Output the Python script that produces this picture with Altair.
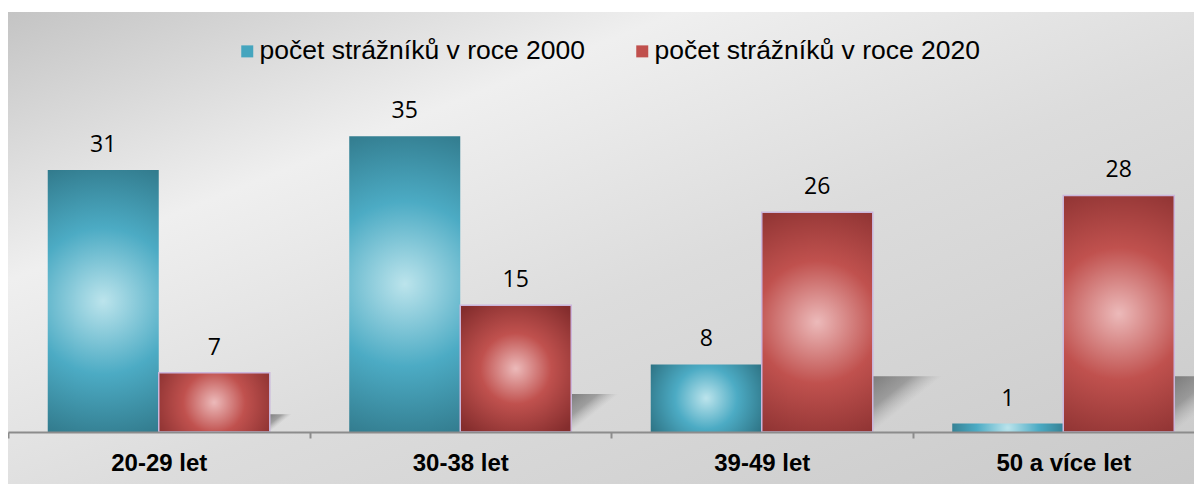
import altair as alt
import pandas as pd

categories = ["20-29 let", "30-38 let", "39-49 let", "50 a více let"]
series = ["počet strážníků v roce 2000", "počet strážníků v roce 2020"]
values_2000 = [31, 35, 8, 1]
values_2020 = [7, 15, 26, 28]

rows = []
for c, a, b in zip(categories, values_2000, values_2020):
    rows.append({"kat": c, "rada": series[0], "hodnota": a})
    rows.append({"kat": c, "rada": series[1], "hodnota": b})
df = pd.DataFrame(rows)

PX_PER_UNIT = 420 / 49.7

bg_grad = {
    "gradient": "linear", "x1": 0, "y1": 0, "x2": 1, "y2": 1,
    "stops": [
        {"offset": 0.0, "color": "#c4c4c4"},
        {"offset": 0.28, "color": "#efefef"},
        {"offset": 0.55, "color": "#dcdcdc"},
        {"offset": 1.0, "color": "#c9c9c9"},
    ],
}
blue_grad = {
    "gradient": "radial", "x1": 0.5, "y1": 0.5, "r1": 0, "x2": 0.5, "y2": 0.5, "r2": 0.62,
    "stops": [
        {"offset": 0.0, "color": "#bce4ec"},
        {"offset": 0.45, "color": "#4cabc4"},
        {"offset": 1.0, "color": "#2a6c7c"},
    ],
}
red_grad = {
    "gradient": "radial", "x1": 0.5, "y1": 0.5, "r1": 0, "x2": 0.5, "y2": 0.5, "r2": 0.62,
    "stops": [
        {"offset": 0.0, "color": "#ecbaba"},
        {"offset": 0.45, "color": "#c0514e"},
        {"offset": 1.0, "color": "#842d2d"},
    ],
}
shadow_grad = {
    "gradient": "linear", "x1": 0.5, "y1": 0, "x2": 1, "y2": 0.25,
    "stops": [
        {"offset": 0.0, "color": "rgba(95,95,95,0.75)"},
        {"offset": 0.45, "color": "rgba(110,110,110,0.55)"},
        {"offset": 0.8, "color": "rgba(150,150,150,0)"},
    ],
}

x_enc = alt.X(
    "kat:N",
    sort=categories,
    scale=alt.Scale(domain=categories, range=[0, 1206], paddingInner=0, paddingOuter=0),
    axis=alt.Axis(
        title=None, labelAngle=0, tickBand="extent", tickSize=6, tickWidth=2,
        tickColor="#8c8c8c", domainColor="#8c8c8c", domainWidth=2,
        labelFont="Liberation Sans", labelFontWeight="bold", labelFontSize=24,
        labelColor="#000000", labelPadding=13, zindex=1, grid=False,
    ),
)
xoff_enc = alt.XOffset("rada:N", scale=alt.Scale(domain=series, paddingOuter=0.358, paddingInner=0))
y_scale = alt.Scale(domain=[0, 49.7], nice=False, zero=True)

base = alt.Chart(df)

bg = alt.Chart(alt.Data(values=[{"a": 1}])).mark_rect(fill=bg_grad).encode(
    x=alt.value(-1), x2=alt.value(1200), y=alt.value(0), y2=alt.value(480)
)

shadow = base.transform_filter(alt.datum.rada == series[1]).transform_calculate(
    sh="min(0.3 * datum.hodnota, 6.6)"
).transform_calculate(
    sw=f"2 * datum.sh * {PX_PER_UNIT} * 1.25"
).mark_bar(fill=shadow_grad, xOffset=111).encode(
    x=x_enc,
    y=alt.Y("sh:Q", scale=y_scale, axis=None),
    size=alt.Size("sw:Q", scale=None, legend=None),
)

bars_a = base.transform_filter(alt.datum.rada == series[0]).mark_bar(fill=blue_grad).encode(
    x=x_enc, xOffset=xoff_enc, y=alt.Y("hodnota:Q", scale=y_scale, axis=None)
)
bars_b = base.transform_filter(alt.datum.rada == series[1]).mark_bar(
    fill=red_grad, stroke="#cbb6dc", strokeWidth=1.5
).encode(
    x=x_enc, xOffset=xoff_enc, y=alt.Y("hodnota:Q", scale=y_scale, axis=None)
)

labels = base.mark_text(
    font="Open Sans", fontSize=23, color="#000000", baseline="alphabetic", dy=-18
).encode(
    x=x_enc, xOffset=xoff_enc, y=alt.Y("hodnota:Q", scale=y_scale, axis=None),
    text=alt.Text("hodnota:Q"),
)

legend_layer = base.mark_square(size=100).encode(
    x=alt.value(-500), y=alt.value(-500),
    color=alt.Color(
        "rada:N",
        scale=alt.Scale(domain=series, range=["#45a5be", "#c0504d"]),
        legend=alt.Legend(
            title=None, orient="none", legendX=226, legendY=26, direction="horizontal",
            symbolType="square", symbolSize=144, symbolOpacity=1, symbolStrokeWidth=0,
            labelFont="Liberation Sans", labelFontSize=26.5, labelColor="#000000",
            labelOffset={"expr": "-1"}, labelLimit=600, columnPadding=43, padding=0,
        ),
    ),
)

chart = alt.layer(bg, shadow, bars_a, bars_b, labels, legend_layer).properties(
    width=1186, height=420,
    autosize=alt.AutoSizeParams(type="none"),
    padding={"left": 0, "top": 4, "right": 0, "bottom": 52},
    background="#ffffff",
).configure_view(stroke=None)

chart.save("out.html", embed_options={"renderer": "svg", "actions": False})
